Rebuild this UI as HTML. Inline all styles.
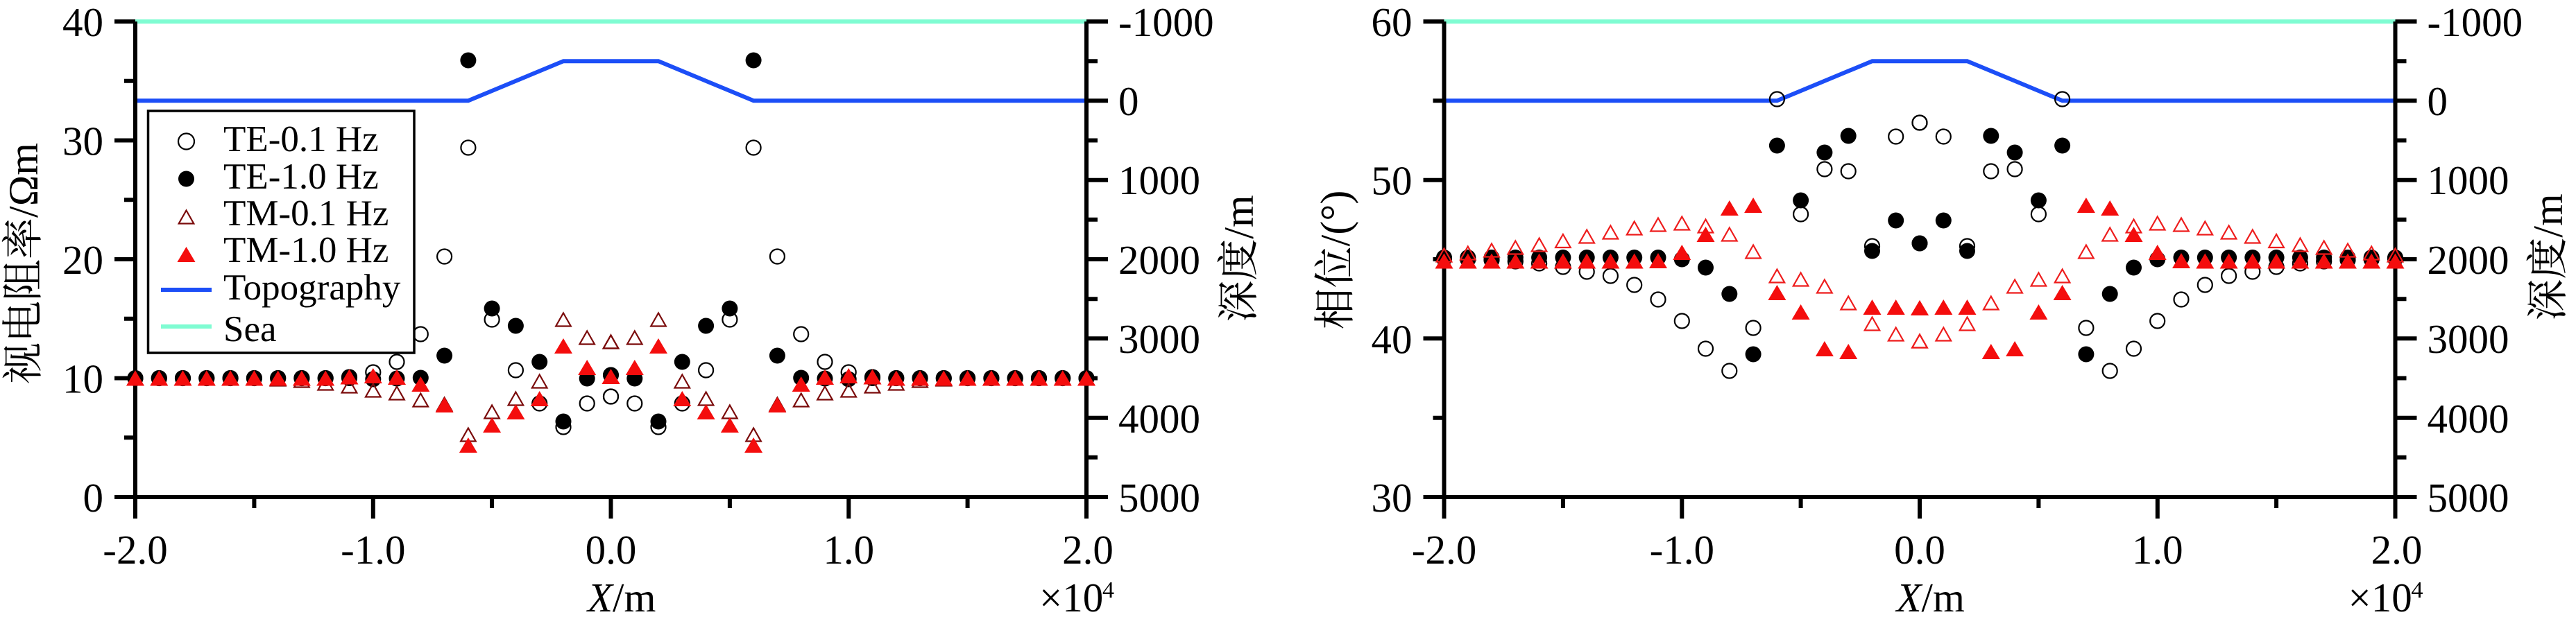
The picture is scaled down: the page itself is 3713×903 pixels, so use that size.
<!DOCTYPE html>
<html><head><meta charset="utf-8"><style>html,body{margin:0;padding:0;background:#fff}svg{display:block}</style></head>
<body>
<svg xmlns="http://www.w3.org/2000/svg" xmlns:xlink="http://www.w3.org/1999/xlink" width="3713" height="903" viewBox="0 0 3713 903" font-family="'Liberation Serif','Noto Serif CJK SC',serif">
<defs>
<circle id="oc" r="10.5" fill="none" stroke="#000" stroke-width="2.2"/>
<circle id="oc2" r="11.5" fill="none" stroke="#000" stroke-width="2.2"/>
<circle id="fc" r="11.5" fill="#000"/>
<path id="ot" d="M0,-9.5 L10.8,9.5 L-10.8,9.5 Z" fill="none" stroke="#7a0a0a" stroke-width="2.2" stroke-linejoin="miter"/>
<path id="ot2" d="M0,-9.5 L10.8,9.5 L-10.8,9.5 Z" fill="none" stroke="#ee1c1c" stroke-width="2.2"/>
<path id="ft" d="M0,-11 L13,11 L-13,11 Z" fill="#f40d0d"/>

<g id="lm">
<use href="#oc" x="195" y="545.5"/><use href="#oc" x="229.3" y="545.5"/><use href="#oc" x="263.5" y="545.5"/><use href="#oc" x="297.8" y="545.5"/><use href="#oc" x="332.1" y="545.5"/><use href="#oc" x="366.4" y="545.5"/><use href="#oc" x="400.7" y="545.5"/><use href="#oc" x="434.9" y="545.5"/><use href="#oc" x="469.2" y="545.5"/><use href="#oc" x="503.5" y="544"/><use href="#oc" x="537.8" y="537"/><use href="#oc" x="572" y="522"/><use href="#oc" x="606.3" y="482"/><use href="#oc" x="640.6" y="370"/><use href="#oc" x="674.9" y="213"/><use href="#oc" x="709.1" y="461"/><use href="#oc" x="743.4" y="534"/><use href="#oc" x="777.7" y="582"/><use href="#oc" x="812" y="616"/><use href="#oc" x="846.2" y="582"/><use href="#oc" x="880.5" y="572"/>
<use href="#fc" x="195" y="545.5"/><use href="#fc" x="229.3" y="545.5"/><use href="#fc" x="263.5" y="545.5"/><use href="#fc" x="297.8" y="545.5"/><use href="#fc" x="332.1" y="545.5"/><use href="#fc" x="366.4" y="545.5"/><use href="#fc" x="400.7" y="545.5"/><use href="#fc" x="434.9" y="545.5"/><use href="#fc" x="469.2" y="545.5"/><use href="#fc" x="503.5" y="545.5"/><use href="#fc" x="537.8" y="547"/><use href="#fc" x="572" y="546"/><use href="#fc" x="606.3" y="545"/><use href="#fc" x="640.6" y="513"/><use href="#fc" x="674.9" y="87"/><use href="#fc" x="709.1" y="445"/><use href="#fc" x="743.4" y="470"/><use href="#fc" x="777.7" y="522"/><use href="#fc" x="812" y="608"/><use href="#fc" x="846.2" y="546"/><use href="#fc" x="880.5" y="541"/>
<use href="#ot" x="195" y="545.5"/><use href="#ot" x="229.3" y="545.5"/><use href="#ot" x="263.5" y="545.5"/><use href="#ot" x="297.8" y="545.5"/><use href="#ot" x="332.1" y="545.5"/><use href="#ot" x="366.4" y="545.5"/><use href="#ot" x="400.7" y="547"/><use href="#ot" x="434.9" y="549"/><use href="#ot" x="469.2" y="553"/><use href="#ot" x="503.5" y="557"/><use href="#ot" x="537.8" y="563"/><use href="#ot" x="572" y="567"/><use href="#ot" x="606.3" y="577"/><use href="#ot" x="640.6" y="583"/><use href="#ot" x="674.9" y="627"/><use href="#ot" x="709.1" y="594"/><use href="#ot" x="743.4" y="575"/><use href="#ot" x="777.7" y="550"/><use href="#ot" x="812" y="461"/><use href="#ot" x="846.2" y="487"/><use href="#ot" x="880.5" y="493"/>
<use href="#ft" x="195" y="545.5"/><use href="#ft" x="229.3" y="545.5"/><use href="#ft" x="263.5" y="545.5"/><use href="#ft" x="297.8" y="545.5"/><use href="#ft" x="332.1" y="545.5"/><use href="#ft" x="366.4" y="545.5"/><use href="#ft" x="400.7" y="545.5"/><use href="#ft" x="434.9" y="545.5"/><use href="#ft" x="469.2" y="545.5"/><use href="#ft" x="503.5" y="543.5"/><use href="#ft" x="537.8" y="542"/><use href="#ft" x="572" y="544"/><use href="#ft" x="606.3" y="554"/><use href="#ft" x="640.6" y="584"/><use href="#ft" x="674.9" y="642"/><use href="#ft" x="709.1" y="613"/><use href="#ft" x="743.4" y="594"/><use href="#ft" x="777.7" y="575"/><use href="#ft" x="812" y="499"/><use href="#ft" x="846.2" y="530"/><use href="#ft" x="880.5" y="543"/>
</g>

<g id="rm">
<use href="#oc" x="195" y="373"/><use href="#oc" x="229.3" y="374"/><use href="#oc" x="263.5" y="375"/><use href="#oc" x="297.8" y="377"/><use href="#oc" x="332.1" y="380"/><use href="#oc" x="366.4" y="385"/><use href="#oc" x="400.7" y="392"/><use href="#oc" x="434.9" y="398"/><use href="#oc" x="469.2" y="411"/><use href="#oc" x="503.5" y="432"/><use href="#oc" x="537.8" y="463"/><use href="#oc" x="572" y="503"/><use href="#oc" x="606.3" y="535"/><use href="#oc" x="640.6" y="473"/><use href="#oc" x="674.9" y="143"/><use href="#oc" x="709.1" y="309"/><use href="#oc" x="743.4" y="244"/><use href="#oc" x="777.7" y="247"/><use href="#oc" x="812" y="355"/><use href="#oc" x="846.2" y="197"/><use href="#oc" x="880.5" y="177"/>
<use href="#fc" x="195" y="371.5"/><use href="#fc" x="229.3" y="371.5"/><use href="#fc" x="263.5" y="371.5"/><use href="#fc" x="297.8" y="371.5"/><use href="#fc" x="332.1" y="371.5"/><use href="#fc" x="366.4" y="371.5"/><use href="#fc" x="400.7" y="371.5"/><use href="#fc" x="434.9" y="371.5"/><use href="#fc" x="469.2" y="371.5"/><use href="#fc" x="503.5" y="371.5"/><use href="#fc" x="537.8" y="374"/><use href="#fc" x="572" y="386"/><use href="#fc" x="606.3" y="424"/><use href="#fc" x="640.6" y="511"/><use href="#fc" x="674.9" y="210"/><use href="#fc" x="709.1" y="289"/><use href="#fc" x="743.4" y="220"/><use href="#fc" x="777.7" y="196"/><use href="#fc" x="812" y="362"/><use href="#fc" x="846.2" y="318"/><use href="#fc" x="880.5" y="351"/>
<use href="#ot2" x="195" y="368"/><use href="#ot2" x="229.3" y="365"/><use href="#ot2" x="263.5" y="361"/><use href="#ot2" x="297.8" y="357"/><use href="#ot2" x="332.1" y="353"/><use href="#ot2" x="366.4" y="347.5"/><use href="#ot2" x="400.7" y="341"/><use href="#ot2" x="434.9" y="335"/><use href="#ot2" x="469.2" y="329"/><use href="#ot2" x="503.5" y="324"/><use href="#ot2" x="537.8" y="322"/><use href="#ot2" x="572" y="326"/><use href="#ot2" x="606.3" y="338"/><use href="#ot2" x="640.6" y="363"/><use href="#ot2" x="674.9" y="398"/><use href="#ot2" x="709.1" y="403"/><use href="#ot2" x="743.4" y="413"/><use href="#ot2" x="777.7" y="437"/><use href="#ot2" x="812" y="467"/><use href="#ot2" x="846.2" y="482"/><use href="#ot2" x="880.5" y="492"/>
<use href="#ft" x="195" y="376.5"/><use href="#ft" x="229.3" y="376.5"/><use href="#ft" x="263.5" y="376.5"/><use href="#ft" x="297.8" y="376.5"/><use href="#ft" x="332.1" y="376.5"/><use href="#ft" x="366.4" y="376.5"/><use href="#ft" x="400.7" y="376.5"/><use href="#ft" x="434.9" y="376.5"/><use href="#ft" x="469.2" y="376.5"/><use href="#ft" x="503.5" y="376"/><use href="#ft" x="537.8" y="364"/><use href="#ft" x="572" y="338"/><use href="#ft" x="606.3" y="300"/><use href="#ft" x="640.6" y="296"/><use href="#ft" x="674.9" y="422"/><use href="#ft" x="709.1" y="450"/><use href="#ft" x="743.4" y="503"/><use href="#ft" x="777.7" y="507"/><use href="#ft" x="812" y="443"/><use href="#ft" x="846.2" y="443"/><use href="#ft" x="880.5" y="444"/>
</g>

<g id="frame">
<line x1="195" y1="31" x2="1566" y2="31" stroke="#7ffcd2" stroke-width="6"/>
<polyline points="195,145.3 674.9,145.3 812,88.2 949.1,88.2 1086.2,145.3 1566,145.3" fill="none" stroke="#1c4ef7" stroke-width="6" stroke-linejoin="miter"/>
<path d="M1566,31V748M165,717H1597
M1566,31H1597M1566,145.3H1597M1566,259.7H1597M1566,374H1597M1566,488.3H1597M1566,602.7H1597
M1566,88.2H1582M1566,202.5H1582M1566,316.8H1582M1566,431.2H1582M1566,545.5H1582M1566,659.8H1582
M195,717V748M537.8,717V748M880.5,717V748M1223.3,717V748
M366.4,717V733M709.1,717V733M1051.9,717V733M1394.6,717V733" stroke="#000" stroke-width="6" fill="none"/>
<g font-size="59" text-anchor="start">
<text x="1612" y="52">-1000</text>
<text x="1612" y="166">0</text>
<text x="1612" y="280">1000</text>
<text x="1612" y="395">2000</text>
<text x="1612" y="509">3000</text>
<text x="1612" y="624">4000</text>
<text x="1612" y="738">5000</text>
</g>
<g font-size="59" text-anchor="middle">
<text x="195" y="813">-2.0</text>
<text x="537.8" y="813">-1.0</text>
<text x="880.5" y="813">0.0</text>
<text x="1223.3" y="813">1.0</text>
<text x="1568" y="813">2.0</text>
</g>
<text x="847" y="882" font-size="59"><tspan font-style="italic">X</tspan>/m</text>
<text x="1498" y="882" font-size="59">×10</text>
<text x="1589" y="862" font-size="34">4</text>
</g>
</defs>

<!-- LEFT CHART -->
<use href="#frame"/>
<path d="M195,31V748M165,31H195M165,202.5H195M165,374H195M165,545.5H195M179,116.75H195M179,288.25H195M179,459.75H195M179,631.25H195" stroke="#000" stroke-width="6" fill="none"/>
<g font-size="59" text-anchor="end">
<text x="149" y="52">40</text>
<text x="149" y="223.5">30</text>
<text x="149" y="395">20</text>
<text x="149" y="566.5">10</text>
<text x="149" y="738">0</text>
</g>
<text transform="translate(54,380) rotate(-90)" text-anchor="middle" font-size="60">视电阻率/Ωm</text>
<text transform="translate(1806,373) rotate(-90)" text-anchor="middle" font-size="60">深度/m</text>
<use href="#lm"/>
<use href="#lm" transform="matrix(-1 0 0 1 1761 0)"/>

<!-- legend -->
<rect x="213.5" y="160" width="383.5" height="349" fill="#fff" stroke="#000" stroke-width="3.5"/>
<use href="#oc2" x="268.5" y="204"/>
<use href="#fc" x="268.5" y="258"/>
<use href="#ot" x="268.5" y="313"/>
<use href="#ft" x="268.5" y="367"/>
<line x1="232" y1="418" x2="305" y2="418" stroke="#1c4ef7" stroke-width="6"/>
<line x1="232" y1="471" x2="305" y2="471" stroke="#7ffcd2" stroke-width="6"/>
<g font-size="53">
<text x="322" y="218">TE-0.1 Hz</text>
<text x="322" y="272">TE-1.0 Hz</text>
<text x="322" y="325">TM-0.1 Hz</text>
<text x="322" y="378">TM-1.0 Hz</text>
<text x="322" y="432">Topography</text>
<text x="322" y="492">Sea</text>
</g>

<!-- RIGHT CHART -->
<g transform="translate(1886.5,0)">
<use href="#frame"/>
<path d="M195,31V748M165,31H195M165,259.7H195M165,488.3H195M179,145.3H195M179,374H195M179,602.7H195" stroke="#000" stroke-width="6" fill="none"/>
<g font-size="59" text-anchor="end">
<text x="149" y="52">60</text>
<text x="149" y="280.7">50</text>
<text x="149" y="509.3">40</text>
<text x="149" y="738">30</text>
</g>
<use href="#rm"/>
<use href="#rm" transform="matrix(-1 0 0 1 1761 0)"/>
</g>
<text transform="translate(1945,375) rotate(-90)" text-anchor="middle" font-size="60">相位/(°)</text>
<text transform="translate(3693,371) rotate(-90)" text-anchor="middle" font-size="60">深度/m</text>
</svg>
</body></html>
